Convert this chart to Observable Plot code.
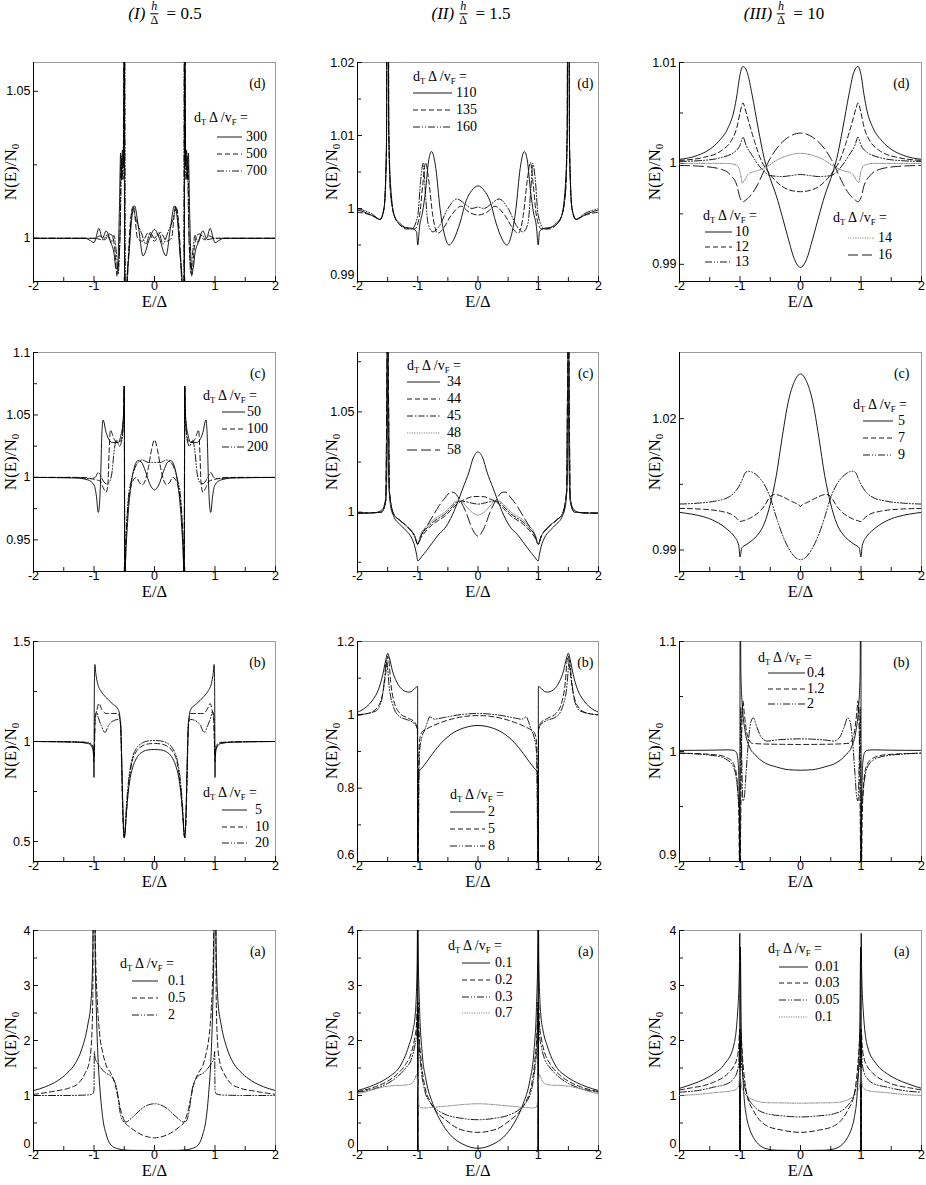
<!DOCTYPE html>
<html><head><meta charset="utf-8">
<script src="https://cdn.jsdelivr.net/npm/d3@7"></script>
<script src="https://cdn.jsdelivr.net/npm/@observablehq/plot@0.6"></script>
<style>
body{margin:0;background:#fff;}
#fig{position:relative;width:926px;height:1185px;overflow:hidden;font-family:"Liberation Serif","Times New Roman",serif;color:#000;}
#fig svg{position:absolute;overflow:visible;}
.title{position:absolute;transform:translate(-50%,-50%);font-size:17px;white-space:nowrap;display:flex;align-items:center;}
.frac{display:inline-flex;flex-direction:column;font-size:12px;line-height:1.1;text-align:center;margin:0 4px 0 5px;}
.frac span:first-child{border-bottom:0.9px solid #000;padding:0 1px;}
.ylab{position:absolute;transform:translate(-50%,-50%) rotate(-90deg);font-size:17px;line-height:1;white-space:nowrap;}
.leg{position:absolute;font-size:14px;white-space:nowrap;line-height:1;transform:translateY(-50%);}
.leg sub{font-size:0.62em;vertical-align:baseline;position:relative;top:0.35em;}
.ylab sub{font-size:0.65em;vertical-align:baseline;position:relative;top:0.3em;}
</style></head><body><div id="fig"></div>
<script>
// ---------- tick values ----------
const xMajor = [-2, -1, 0, 1, 2];
const xMinor = [-1.5, -0.5, 0.5, 1.5];

// ---------- data (E >= 0 half; curves are symmetric in E) ----------
// (I) h/Δ = 0.5, panel (d)
const Id_300 = [[0,1.003],[0.08,1.0],[0.19,0.994],[0.26,1.003],[0.33,1.011],[0.38,1.006],[0.42,0.995],[0.46,0.984],[0.49,0.96],[0.497,1.02],[0.5,1.2],[0.503,1.08],[0.515,1.025],[0.53,1.03],[0.545,1.02],[0.56,1.029],[0.58,1.01],[0.61,0.99],[0.635,0.9895],[0.67,0.995],[0.72,0.9985],[0.8,1.0025],[0.86,1.0],[0.92,1.0034],[0.97,1.0],[1.0,0.9985],[1.06,0.9992],[1.15,1.0],[2,1.0]];
const Id_500 = [[0,0.999],[0.1,1.002],[0.2,0.999],[0.28,1.0],[0.35,1.011],[0.4,1.005],[0.44,0.99],[0.47,0.975],[0.49,0.96],[0.5,1.2],[0.505,1.06],[0.52,1.025],[0.54,1.02],[0.555,1.025],[0.57,1.0],[0.6,0.99],[0.62,0.987],[0.65,0.995],[0.7,1.001],[0.75,1.0015],[0.82,0.9995],[0.9,1.0008],[1.0,1.0],[2,1.0]];
const Id_700 = [[0,1.0],[0.07,1.002],[0.14,0.998],[0.22,1.002],[0.3,1.006],[0.36,1.01],[0.41,1.0],[0.45,0.985],[0.48,0.97],[0.5,1.2],[0.505,1.05],[0.52,1.02],[0.54,1.028],[0.56,1.01],[0.58,0.995],[0.6,0.988],[0.63,0.995],[0.67,1.001],[0.72,0.9985],[0.78,1.0012],[0.85,0.9995],[1.0,1.0],[2,1.0]];
// (II) h/Δ = 1.5, panel (d)
const IId_110 = [[0,1.0031],[0.1,1.0025],[0.2,1.001],[0.3,0.998],[0.4,0.9958],[0.48,0.995],[0.55,0.9962],[0.63,1.0],[0.7,1.0055],[0.77,1.0078],[0.82,1.0065],[0.87,1.0025],[0.92,0.9995],[0.97,0.9975],[1.0,0.995],[1.02,0.9968],[1.1,0.9973],[1.2,0.9974],[1.3,0.998],[1.38,0.9988],[1.44,1.002],[1.48,1.01],[1.495,1.05],[1.5,1.1],[1.505,1.05],[1.52,1.008],[1.56,1.0],[1.62,0.9985],[1.7,0.9988],[1.85,0.9994],[2,0.9998]];
const IId_135 = [[0,0.9991],[0.15,0.9995],[0.28,1.0003],[0.45,0.999],[0.6,0.997],[0.67,0.9966],[0.75,0.999],[0.82,1.004],[0.87,1.0063],[0.92,1.003],[0.97,0.999],[1.05,0.9972],[1.2,0.9972],[1.3,0.9978],[1.38,0.9988],[1.45,1.002],[1.48,1.01],[1.5,1.1],[1.52,1.008],[1.56,1.0],[1.63,0.9985],[1.75,0.999],[2,0.9995]];
const IId_160 = [[0,1.0002],[0.1,1.0],[0.2,1.0005],[0.35,1.0013],[0.5,1.0],[0.65,0.9975],[0.75,0.9968],[0.83,0.998],[0.88,1.003],[0.91,1.0062],[0.95,1.004],[1.0,0.999],[1.1,0.9972],[1.25,0.9975],[1.38,0.9988],[1.45,1.002],[1.48,1.01],[1.5,1.1],[1.52,1.008],[1.56,1.0],[1.63,0.9985],[1.75,0.9992],[2,1.0]];
// (III) h/Δ = 10, panel (d)
const IIId_10 = [[0,0.9897],[0.1,0.9905],[0.2,0.9925],[0.3,0.9947],[0.4,0.9968],[0.5,0.9985],[0.6,1.0005],[0.7,1.0035],[0.8,1.0068],[0.88,1.009],[0.95,1.0096],[1.0,1.0088],[1.05,1.0068],[1.1,1.0052],[1.2,1.0035],[1.35,1.0022],[1.5,1.0014],[1.7,1.0008],[2,1.0004]];
const IIId_12 = [[0,0.9972],[0.2,0.9974],[0.4,0.9982],[0.55,0.9993],[0.65,1.0003],[0.75,1.002],[0.85,1.004],[0.92,1.0055],[0.95,1.006],[1.0,1.005],[1.05,1.0036],[1.15,1.0022],[1.3,1.0013],[1.6,1.0006],[2,1.0003]];
const IIId_13 = [[0,0.9989],[0.15,0.9988],[0.3,0.9987],[0.5,0.9988],[0.65,0.9995],[0.8,1.0008],[0.9,1.0018],[0.95,1.0026],[1.0,1.0018],[1.1,1.0011],[1.3,1.0006],[1.6,1.0003],[2,1.0002]];
const IIId_14 = [[0,1.001],[0.2,1.0008],[0.4,1.0003],[0.55,0.9997],[0.7,0.9993],[0.85,0.999],[0.93,0.9983],[0.96,0.9981],[1.0,0.9992],[1.05,0.9998],[1.2,1.0],[2,1.0]];
const IIId_16 = [[0,1.003],[0.2,1.0026],[0.35,1.0018],[0.5,1.0005],[0.6,0.9993],[0.7,0.998],[0.8,0.997],[0.9,0.9964],[0.95,0.9962],[1.0,0.9966],[1.05,0.9978],[1.15,0.9988],[1.3,0.9994],[1.6,0.9997],[2,0.9998]];
// (I) panel (c)
const Ic_50 = [[0,0.99],[0.08,0.995],[0.15,1.005],[0.22,1.0125],[0.27,1.0135],[0.32,1.01],[0.37,1.0],[0.41,0.985],[0.45,0.96],[0.48,0.93],[0.49,0.91],[0.497,1.0],[0.5,1.073],[0.505,1.06],[0.52,1.045],[0.55,1.035],[0.6,1.028],[0.65,1.028],[0.7,1.028],[0.75,1.03],[0.8,1.036],[0.85,1.046],[0.87,1.035],[0.89,1.0],[0.91,0.978],[0.93,0.972],[0.96,0.985],[1.0,0.994],[1.1,0.998],[1.3,0.9995],[2,1.0]];
const Ic_100 = [[0,1.03],[0.05,1.022],[0.1,1.008],[0.15,0.998],[0.2,0.994],[0.25,0.996],[0.3,1.0],[0.35,0.998],[0.4,0.99],[0.45,0.97],[0.48,0.94],[0.49,0.92],[0.5,1.073],[0.51,1.05],[0.55,1.03],[0.6,1.028],[0.66,1.03],[0.7,1.035],[0.73,1.038],[0.75,1.02],[0.77,0.995],[0.8,0.988],[0.85,0.992],[0.9,0.997],[1.0,0.9985],[1.2,1.0],[2,1.0]];
const Ic_200 = [[0,1.012],[0.1,1.012],[0.2,1.014],[0.3,1.01],[0.38,0.998],[0.43,0.985],[0.47,0.95],[0.49,0.92],[0.5,1.073],[0.51,1.05],[0.54,1.03],[0.58,1.025],[0.63,1.03],[0.67,1.02],[0.7,1.005],[0.75,0.996],[0.8,0.995],[0.88,1.0],[0.93,1.004],[0.98,1.0],[1.05,0.999],[1.3,1.0],[2,1.0]];
// (II) panel (c)
const IIc_34 = [[0,1.03],[0.08,1.027],[0.15,1.02],[0.25,1.012],[0.35,1.004],[0.45,0.997],[0.55,0.992],[0.65,0.989],[0.75,0.985],[0.85,0.981],[0.93,0.978],[1.0,0.9757],[1.02,0.979],[1.05,0.983],[1.1,0.987],[1.2,0.991],[1.3,0.994],[1.4,0.998],[1.45,1.003],[1.48,1.015],[1.495,1.05],[1.5,1.1],[1.505,1.05],[1.52,1.012],[1.55,1.004],[1.6,1.001],[1.7,0.9997],[1.85,0.9995],[2,0.9995]];
const IIc_44 = [[0,1.0078],[0.1,1.0077],[0.2,1.0065],[0.28,1.0055],[0.35,1.004],[0.45,1.001],[0.55,0.998],[0.65,0.996],[0.75,0.994],[0.85,0.991],[0.95,0.987],[1.0,0.984],[1.05,0.988],[1.15,0.992],[1.3,0.996],[1.4,0.999],[1.47,1.01],[1.5,1.1],[1.53,1.006],[1.6,1.0],[2,0.9995]];
const IIc_45 = [[0,1.004],[0.1,1.0045],[0.2,1.0052],[0.28,1.0055],[0.35,1.005],[0.45,1.002],[0.55,0.999],[0.65,0.997],[0.75,0.995],[0.85,0.992],[0.95,0.988],[1.0,0.984],[1.05,0.988],[1.15,0.992],[1.3,0.996],[1.4,0.999],[1.47,1.01],[1.5,1.1],[1.53,1.006],[1.6,1.0],[2,0.9995]];
const IIc_48 = [[0,0.9985],[0.1,1.0],[0.2,1.003],[0.28,1.0055],[0.35,1.0055],[0.45,1.003],[0.55,1.0],[0.65,0.998],[0.75,0.996],[0.85,0.993],[0.95,0.989],[1.0,0.984],[1.05,0.988],[1.15,0.992],[1.3,0.996],[1.4,0.999],[1.47,1.01],[1.5,1.1],[1.53,1.006],[1.6,1.0],[2,0.9995]];
const IIc_58 = [[0,0.988],[0.1,0.992],[0.2,1.0],[0.3,1.006],[0.4,1.0098],[0.45,1.01],[0.55,1.007],[0.65,1.003],[0.75,0.998],[0.85,0.993],[0.95,0.988],[1.0,0.984],[1.05,0.988],[1.15,0.992],[1.3,0.996],[1.4,0.999],[1.47,1.01],[1.5,1.1],[1.53,1.006],[1.6,1.0],[2,0.9995]];
// (III) panel (c)
const IIIc_5 = [[0,1.0302],[0.1,1.0285],[0.2,1.024],[0.3,1.016],[0.4,1.007],[0.5,1.0005],[0.6,0.996],[0.7,0.9936],[0.8,0.9922],[0.9,0.9912],[0.97,0.9905],[1.0,0.9884],[1.02,0.991],[1.1,0.9932],[1.2,0.9946],[1.4,0.9965],[1.6,0.9976],[1.8,0.9982],[2,0.9986]];
const IIIc_7 = [[0,0.99995],[0.03,1.0004],[0.1,1.0008],[0.2,1.0015],[0.3,1.0022],[0.42,1.0027],[0.5,1.0022],[0.6,1.0],[0.7,0.9985],[0.85,0.9972],[0.97,0.9966],[1.0,0.9965],[1.05,0.9972],[1.15,0.9982],[1.3,0.9988],[1.6,0.9993],[2,0.9995]];
const IIIc_9 = [[0,0.9878],[0.1,0.9885],[0.2,0.9905],[0.3,0.9935],[0.4,0.9975],[0.5,1.002],[0.6,1.005],[0.7,1.0068],[0.8,1.0078],[0.87,1.008],[0.92,1.0075],[0.95,1.0065],[1.0,1.005],[1.1,1.003],[1.2,1.002],[1.4,1.0012],[1.7,1.0007],[2,1.0005]];
// (I) panel (b)
const Ib_5 = [[0,0.96],[0.1,0.958],[0.2,0.948],[0.28,0.925],[0.35,0.88],[0.4,0.82],[0.44,0.73],[0.47,0.62],[0.49,0.53],[0.5,0.52],[0.51,0.56],[0.53,0.75],[0.55,1.0],[0.57,1.12],[0.6,1.16],[0.7,1.19],[0.8,1.22],[0.88,1.25],[0.94,1.29],[0.97,1.34],[0.985,1.385],[0.993,1.3],[0.998,1.0],[1.0,0.82],[1.005,0.92],[1.02,0.96],[1.05,0.98],[1.1,0.99],[1.3,0.997],[2,1.0]];
const Ib_10 = [[0,0.99],[0.1,0.988],[0.2,0.978],[0.3,0.95],[0.37,0.9],[0.42,0.8],[0.46,0.66],[0.49,0.54],[0.5,0.52],[0.52,0.6],[0.545,0.9],[0.56,1.08],[0.6,1.14],[0.7,1.14],[0.8,1.14],[0.87,1.16],[0.92,1.19],[0.95,1.16],[0.98,1.1],[1.0,0.9],[1.01,0.96],[1.05,0.985],[1.1,0.993],[1.3,0.998],[2,1.0]];
const Ib_20 = [[0,1.005],[0.1,1.003],[0.2,0.993],[0.3,0.965],[0.38,0.9],[0.43,0.8],[0.47,0.65],[0.49,0.54],[0.5,0.52],[0.52,0.62],[0.545,0.95],[0.56,1.1],[0.6,1.11],[0.7,1.1],[0.76,1.08],[0.82,1.045],[0.88,1.08],[0.93,1.12],[0.96,1.15],[0.98,1.13],[1.0,0.93],[1.01,0.97],[1.05,0.99],[1.1,0.996],[2,1.0]];
// (II) panel (b)
const IIb_2 = [[0,0.971],[0.2,0.966],[0.4,0.952],[0.6,0.925],[0.75,0.895],[0.85,0.872],[0.93,0.855],[0.98,0.845],[0.995,0.8],[1.0,0.55],[1.002,1.077],[1.05,1.072],[1.1,1.064],[1.15,1.062],[1.25,1.068],[1.35,1.09],[1.42,1.12],[1.47,1.155],[1.5,1.168],[1.53,1.15],[1.58,1.11],[1.65,1.07],[1.75,1.04],[1.85,1.022],[2,1.007]];
const IIb_5 = [[0,0.998],[0.2,0.996],[0.4,0.99],[0.6,0.98],[0.75,0.97],[0.85,0.962],[0.92,0.955],[0.96,0.94],[0.98,0.9],[1.0,0.55],[1.005,0.96],[1.05,0.98],[1.15,0.99],[1.3,1.005],[1.4,1.04],[1.45,1.09],[1.48,1.15],[1.5,1.16],[1.52,1.13],[1.58,1.06],[1.65,1.025],[1.8,1.005],[2,1.0]];
const IIb_8 = [[0,1.004],[0.2,1.002],[0.4,0.998],[0.55,0.993],[0.65,0.99],[0.72,0.988],[0.77,0.992],[0.8,0.995],[0.83,0.985],[0.88,0.96],[0.93,0.94],[0.97,0.9],[1.0,0.55],[1.005,0.96],[1.05,0.975],[1.15,0.985],[1.3,0.995],[1.4,1.02],[1.47,1.07],[1.52,1.15],[1.55,1.1],[1.6,1.04],[1.7,1.01],[2,1.0]];
// (III) panel (b)
const IIIb_04 = [[0,0.983],[0.2,0.9835],[0.4,0.986],[0.6,0.99],[0.75,0.997],[0.85,1.005],[0.92,1.02],[0.96,1.04],[0.985,1.07],[0.999,1.2],[1.001,0.8],[1.01,0.95],[1.03,0.99],[1.06,0.999],[1.1,1.001],[1.2,1.0015],[1.5,1.0012],[2,1.001]];
const IIIb_12 = [[0,1.0064],[0.3,1.0065],[0.6,1.0068],[0.8,1.0075],[0.88,1.015],[0.93,1.035],[0.95,1.046],[0.97,1.02],[0.985,0.95],[0.995,0.9],[1.005,0.88],[1.02,0.94],[1.05,0.975],[1.1,0.988],[1.2,0.994],[1.4,0.997],[2,0.9985]];
const IIIb_2 = [[0,1.0115],[0.2,1.0112],[0.4,1.0105],[0.55,1.0095],[0.65,1.013],[0.72,1.022],[0.78,1.0305],[0.82,1.027],[0.86,1.01],[0.9,0.98],[0.93,0.958],[0.95,0.955],[0.97,0.99],[0.985,1.04],[0.995,1.0],[1.0,0.9],[1.01,0.945],[1.03,0.96],[1.06,0.975],[1.1,0.985],[1.2,0.992],[1.4,0.996],[2,0.9985]];
// (I) panel (a)
const Ia_01 = [[0,0.0],[0.4,0.003],[0.5,0.01],[0.6,0.03],[0.7,0.08],[0.76,0.17],[0.8,0.3],[0.85,0.55],[0.9,1.1],[0.93,1.6],[0.96,2.5],[0.98,3.5],[0.99,4.5],[1.01,4.5],[1.02,3.6],[1.05,2.7],[1.1,2.3],[1.2,1.85],[1.3,1.6],[1.45,1.4],[1.6,1.27],[1.8,1.16],[2,1.09]];
const Ia_05 = [[0,0.23],[0.1,0.245],[0.2,0.28],[0.3,0.34],[0.4,0.42],[0.48,0.5],[0.55,0.7],[0.6,0.95],[0.65,1.2],[0.72,1.4],[0.8,1.55],[0.86,1.8],[0.9,2.05],[0.94,2.6],[0.97,3.4],[0.99,4.5],[1.01,4.5],[1.02,2.8],[1.04,2.0],[1.08,1.6],[1.15,1.4],[1.26,1.22],[1.4,1.14],[1.65,1.08],[2,1.02]];
const Ia_2 = [[0,0.85],[0.1,0.83],[0.2,0.77],[0.3,0.67],[0.4,0.57],[0.47,0.52],[0.52,0.53],[0.57,0.7],[0.62,1.1],[0.67,1.28],[0.72,1.35],[0.82,1.42],[0.9,1.52],[0.95,1.6],[0.985,1.7],[0.995,1.8],[1.0,1.1],[1.02,1.03],[1.1,1.01],[1.5,1.0],[2,1.0]];
// (II) panel (a)
const IIa_01 = [[0,0.04],[0.26,0.12],[0.42,0.24],[0.59,0.48],[0.75,0.85],[0.86,1.27],[0.93,1.82],[0.97,2.6],[0.995,3.8],[0.998,4.5],[1.0,0],[1.002,4.5],[1.01,3.4],[1.04,2.5],[1.08,2.18],[1.15,1.9],[1.3,1.52],[1.45,1.36],[1.63,1.24],[1.8,1.16],[2,1.09]];
const IIa_02 = [[0,0.33],[0.31,0.39],[0.53,0.55],[0.7,0.72],[0.8,0.9],[0.88,1.15],[0.94,1.6],[0.98,2.2],[0.995,2.7],[1.0,0],[1.005,2.7],[1.02,2.3],[1.05,2.05],[1.1,1.8],[1.2,1.57],[1.35,1.38],[1.5,1.26],[1.7,1.16],[2,1.07]];
const IIa_03 = [[0,0.56],[0.3,0.59],[0.53,0.65],[0.7,0.76],[0.8,0.88],[0.88,1.07],[0.94,1.45],[0.98,2.0],[0.995,2.5],[1.0,0],[1.005,2.5],[1.02,2.1],[1.05,1.9],[1.1,1.68],[1.2,1.5],[1.35,1.33],[1.5,1.22],[1.7,1.13],[2,1.06]];
const IIa_07 = [[0,0.85],[0.2,0.84],[0.4,0.82],[0.6,0.8],[0.8,0.78],[0.9,0.775],[0.95,0.78],[0.98,0.82],[1.0,1.2],[1.02,1.38],[1.05,1.3],[1.1,1.22],[1.2,1.19],[1.4,1.18],[1.55,1.16],[1.7,1.12],[1.85,1.07],[2,1.03]];
// (III) panel (a)
const IIIa_001 = [[0,0.0],[0.4,0.005],[0.56,0.03],[0.7,0.12],[0.78,0.24],[0.85,0.42],[0.89,0.6],[0.94,1.1],[0.98,2.3],[0.995,3.7],[1.0,0],[1.003,3.95],[1.01,3.3],[1.04,2.5],[1.11,1.88],[1.25,1.58],[1.44,1.39],[1.6,1.29],[1.78,1.21],[2,1.13]];
const IIIa_003 = [[0,0.33],[0.3,0.37],[0.56,0.45],[0.78,0.73],[0.89,1.03],[0.95,1.58],[0.985,2.1],[0.995,2.2],[1.0,0],[1.005,2.2],[1.02,1.9],[1.05,1.68],[1.11,1.52],[1.2,1.4],[1.44,1.24],[1.6,1.18],[1.8,1.14],[2,1.1]];
const IIIa_005 = [[0,0.61],[0.3,0.63],[0.56,0.67],[0.78,0.82],[0.89,1.03],[0.95,1.35],[0.985,1.75],[0.995,2.0],[1.0,0],[1.005,2.0],[1.02,1.6],[1.05,1.42],[1.11,1.3],[1.2,1.22],[1.44,1.15],[1.7,1.09],[2,1.06]];
const IIIa_01 = [[0,0.86],[0.3,0.865],[0.56,0.87],[0.78,0.92],[0.89,1.0],[0.95,1.09],[0.98,1.2],[0.995,1.4],[1.0,1.5],[1.01,1.3],[1.03,1.15],[1.11,1.09],[1.44,1.05],[1.7,1.02],[2,1.0]];

// ---------- legend labels ----------
const lab_Id = ["300", "500", "700"];
const lab_IId = ["110", "135", "160"];
const lab_IIId_left = ["10", "12", "13"];
const lab_IIId_right = ["14", "16"];
const lab_Ic = ["50", "100", "200"];
const lab_IIc = ["34", "44", "45", "48", "58"];
const lab_IIIc = ["5", "7", "9"];
const lab_Ib = ["5", "10", "20"];
const lab_IIb = ["2", "5", "8"];
const lab_IIIb = ["0.4", "1.2", "2"];
const lab_Ia = ["0.1", "0.5", "2"];
const lab_IIa = ["0.1", "0.2", "0.3", "0.7"];
const lab_IIIa = ["0.01", "0.03", "0.05", "0.1"];

// ---------- styles ----------
const STY = {
  solid:   {stroke: "#000", dash: null},
  dash:    {stroke: "#000", dash: "5,3"},
  ddot:    {stroke: "#000", dash: "7,2,1,2,1,2"},
  dashdot: {stroke: "#000", dash: "6,2,1.5,2"},
  dot:     {stroke: "#777", dash: "1.2,1.2"},
  ldash:   {stroke: "#000", dash: "10,4"}
};

const colsX = [[33, 275], [357, 598], [679, 921]];
const rowsY = [[62, 281], [352, 571], [641, 861], [930, 1150]];
const ylabX = [10, 331, 654];
const letterDx = [-10, -5, -12];

const panels = [
  {c:0, r:0, letter:"(d)", yd:[0.9853,1.0598], yt:[1,1.05], ym:[1.025],
   series:[[Id_300,"solid"],[Id_500,"dash"],[Id_700,"ddot"]],
   legends:[{hx:194,hy:118,lx1:217,lx2:242,nx:246,ys:[137,154,171],labels:lab_Id,styles:["solid","dash","ddot"]}]},
  {c:1, r:0, letter:"(d)", yd:[0.99,1.02], yt:[0.99,1,1.01,1.02], ym:[0.995,1.005,1.015],
   series:[[IId_110,"solid"],[IId_135,"dash"],[IId_160,"ddot"]],
   legends:[{hx:413,hy:77,lx1:413,lx2:452,nx:456,ys:[93,110,127],labels:lab_IId,styles:["solid","dash","ddot"]}]},
  {c:2, r:0, letter:"(d)", yd:[0.9883,1.01], yt:[0.99,1,1.01], ym:[0.995,1.005],
   series:[[IIId_10,"solid"],[IIId_12,"dash"],[IIId_13,"ddot"],[IIId_14,"dot"],[IIId_16,"ldash"]],
   legends:[{hx:703,hy:216,lx1:705,lx2:732,nx:735,ys:[232,247,262],labels:lab_IIId_left,styles:["solid","dash","ddot"]},
            {hx:833,hy:218,lx1:848,lx2:875,nx:878,ys:[238,255],labels:lab_IIId_right,styles:["dot","ldash"]}]},
  {c:0, r:1, letter:"(c)", yd:[0.9247,1.1], yt:[0.95,1,1.05,1.1], ym:[0.975,1.025,1.075],
   series:[[Ic_50,"solid"],[Ic_100,"dash"],[Ic_200,"ddot"]],
   legends:[{hx:203,hy:396,lx1:222,lx2:245,nx:247,ys:[412,429,447],labels:lab_Ic,styles:["solid","dash","ddot"]}]},
  {c:1, r:1, letter:"(c)", yd:[0.9704,1.0796], yt:[1,1.05], ym:[0.975,1.025,1.075],
   series:[[IIc_34,"solid"],[IIc_44,"dash"],[IIc_45,"dashdot"],[IIc_48,"dot"],[IIc_58,"ldash"]],
   legends:[{hx:407,hy:366,lx1:407,lx2:440,nx:447,ys:[382,399,416,433,450],labels:lab_IIc,styles:["solid","dash","dashdot","dot","ldash"]}]},
  {c:2, r:1, letter:"(c)", yd:[0.9851,1.0351], yt:[0.99,1.02], ym:[1.005],
   series:[[IIIc_5,"solid"],[IIIc_7,"dash"],[IIIc_9,"ddot"]],
   legends:[{hx:853,hy:405,lx1:863,lx2:893,nx:898,ys:[421,438,455],labels:lab_IIIc,styles:["solid","dash","ddot"]}]},
  {c:0, r:2, letter:"(b)", yd:[0.4,1.5], yt:[0.5,1,1.5], ym:[0.75,1.25],
   series:[[Ib_5,"solid"],[Ib_10,"dash"],[Ib_20,"ddot"]],
   legends:[{hx:203,hy:793,lx1:222,lx2:247,nx:255,ys:[810,827,843],labels:lab_Ib,styles:["solid","dash","ddot"]}]},
  {c:1, r:2, letter:"(b)", yd:[0.6,1.2], yt:[0.6,0.8,1,1.2], ym:[0.7,0.9,1.1],
   series:[[IIb_2,"solid"],[IIb_5,"dash"],[IIb_8,"ddot"]],
   legends:[{hx:450,hy:795,lx1:450,lx2:485,nx:488,ys:[812,829,846],labels:lab_IIb,styles:["solid","dash","ddot"]}]},
  {c:2, r:2, letter:"(b)", yd:[0.9,1.1], yt:[0.9,1,1.1], ym:[0.95,1.05],
   series:[[IIIb_04,"solid"],[IIIb_12,"dash"],[IIIb_2,"ddot"]],
   legends:[{hx:758,hy:658,lx1:768,lx2:805,nx:807,ys:[673,689,704],labels:lab_IIIb,styles:["solid","dash","ddot"]}]},
  {c:0, r:3, letter:"(a)", yd:[0,4], yt:[0,1,2,3,4], ym:[0.5,1.5,2.5,3.5],
   series:[[Ia_01,"solid"],[Ia_05,"dash"],[Ia_2,"ddot"]],
   legends:[{hx:120,hy:964,lx1:132,lx2:158,nx:168,ys:[981,998,1015],labels:lab_Ia,styles:["solid","dash","ddot"]}]},
  {c:1, r:3, letter:"(a)", yd:[0,4], yt:[0,1,2,3,4], ym:[0.5,1.5,2.5,3.5],
   series:[[IIa_01,"solid"],[IIa_02,"dash"],[IIa_03,"ddot"],[IIa_07,"dot"]],
   legends:[{hx:448,hy:946,lx1:462,lx2:490,nx:495,ys:[963,980,997,1013],labels:lab_IIa,styles:["solid","dash","ddot","dot"]}]},
  {c:2, r:3, letter:"(a)", yd:[0,4], yt:[0,1,2,3,4], ym:[0.5,1.5,2.5,3.5],
   series:[[IIIa_001,"solid"],[IIIa_003,"dash"],[IIIa_005,"ddot"],[IIIa_01,"dot"]],
   legends:[{hx:768,hy:949,lx1:779,lx2:808,nx:815,ys:[967,983,1000,1017],labels:lab_IIIa,styles:["solid","dash","ddot","dot"]}]}
];

const titles = [
  {x:165, y:14, roman:"I", val:"0.5"},
  {x:471, y:14, roman:"II", val:"1.5"},
  {x:784, y:14, roman:"III", val:"10"}
];

function mirror(half) {
  const neg = half.filter(d => d[0] > 0).map(d => [-d[0], d[1]]).reverse();
  return neg.concat(half);
}

const fig = document.getElementById("fig");
const ML = 40, MR = 10, MT = 10, MB = 40;
const SERIF = "Liberation Serif, Times New Roman, serif";
const fmt = d => String(d);

for (const p of panels) {
  const [x0, x1] = colsX[p.c], [y0, y1] = rowsY[p.r];
  const FW = x1 - x0, FH = y1 - y0;
  // the lowest y label sits on the frame corner: lift it slightly so it clears the "-2" x label
  const cornerTicks = p.yt.filter(v => v === p.yd[0]);
  const otherTicks = p.yt.filter(v => v !== p.yd[0]);
  const marks = [
    Plot.frame({stroke: "#9a9a9a", strokeWidth: 1}),
    Plot.ruleX(xMajor.slice(0, 1), {x: d => d, stroke: "#000", strokeWidth: 1}),
    Plot.ruleY([p.yd[0]], {y: d => d, stroke: "#000", strokeWidth: 1}),
    Plot.tickX(xMajor, {x: d => d, insetTop: FH - 5, stroke: "#000", strokeWidth: 0.9}),
    Plot.tickX(xMinor, {x: d => d, insetTop: FH - 4, stroke: "#000", strokeWidth: 0.9}),
    Plot.tickY(p.yt, {y: d => d, insetRight: FW - 5, stroke: "#000", strokeWidth: 0.9}),
    Plot.tickY(p.ym, {y: d => d, insetRight: FW - 4, stroke: "#000", strokeWidth: 0.9}),
    Plot.axisX(xMajor, {tickSize: 0, tickPadding: 0, label: null, fontSize: 12.5, tickFormat: fmt}),
    Plot.axisY(otherTicks, {tickSize: 0, tickPadding: 3, label: null, fontSize: 12.5, tickFormat: fmt})
  ];
  if (cornerTicks.length) {
    marks.push(Plot.axisY(cornerTicks, {tickSize: 0, tickPadding: 3, dy: -7, label: null, fontSize: 12.5, tickFormat: fmt}));
  }
  for (const [half, st] of p.series) {
    const s = STY[st];
    marks.push(Plot.line(mirror(half), {
      x: d => d[0], y: d => d[1], stroke: s.stroke, strokeWidth: 0.9,
      strokeDasharray: s.dash, curve: "monotone-x", clip: true
    }));
  }
  marks.push(Plot.text([p.letter], {frameAnchor: "top-right", textAnchor: "end", dx: letterDx[p.c], dy: 16,
    fontFamily: SERIF, fontSize: 14, fill: "#000"}));
  marks.push(Plot.text(["E/Δ"], {frameAnchor: "bottom", dy: 25, fontFamily: SERIF, fontSize: 16.5, fill: "#000"}));

  const svg = Plot.plot({
    width: FW + ML + MR, height: FH + MT + MB,
    marginLeft: ML, marginRight: MR, marginTop: MT, marginBottom: MB,
    x: {domain: [-2, 2]}, y: {domain: p.yd},
    style: {fontFamily: "Liberation Sans, Arial, sans-serif", fontSize: "12.5px", background: "transparent", color: "#000"},
    marks
  });
  svg.style.left = (x0 - ML) + "px";
  svg.style.top = (y0 - MT) + "px";
  fig.appendChild(svg);

  // y label
  const yl = document.createElement("div");
  yl.className = "ylab";
  yl.innerHTML = "N(E)/N<sub>0</sub>";
  yl.style.left = ylabX[p.c] + "px";
  yl.style.top = ((y0 + y1) / 2) + "px";
  fig.appendChild(yl);

  // legends
  for (const L of p.legends) {
    const h = document.createElement("div");
    h.className = "leg";
    h.innerHTML = "d<sub>T</sub>&thinsp;Δ /v<sub>F</sub> =";
    h.style.left = L.hx + "px"; h.style.top = L.hy + "px";
    fig.appendChild(h);
    L.labels.forEach((lab, i) => {
      const s = STY[L.styles[i]];
      const ns = "http://www.w3.org/2000/svg";
      const ls = document.createElementNS(ns, "svg");
      ls.setAttribute("width", L.lx2 - L.lx1); ls.setAttribute("height", 4);
      ls.style.left = L.lx1 + "px"; ls.style.top = (L.ys[i] - 2) + "px";
      const ln = document.createElementNS(ns, "line");
      ln.setAttribute("x1", 0); ln.setAttribute("x2", L.lx2 - L.lx1);
      ln.setAttribute("y1", 2); ln.setAttribute("y2", 2);
      ln.setAttribute("stroke", s.stroke); ln.setAttribute("stroke-width", 0.9);
      if (s.dash) ln.setAttribute("stroke-dasharray", s.dash);
      ls.appendChild(ln);
      fig.appendChild(ls);
      const t = document.createElement("div");
      t.className = "leg";
      t.textContent = lab;
      t.style.left = L.nx + "px"; t.style.top = L.ys[i] + "px";
      fig.appendChild(t);
    });
  }
}

for (const T of titles) {
  const d = document.createElement("div");
  d.className = "title";
  d.innerHTML = `<span style="font-style:italic">(${T.roman})</span><span class="frac"><span style="font-style:italic">h</span><span>Δ</span></span><span>&nbsp;= ${T.val}</span>`;
  d.style.left = T.x + "px"; d.style.top = T.y + "px";
  fig.appendChild(d);
}
</script></body></html>
